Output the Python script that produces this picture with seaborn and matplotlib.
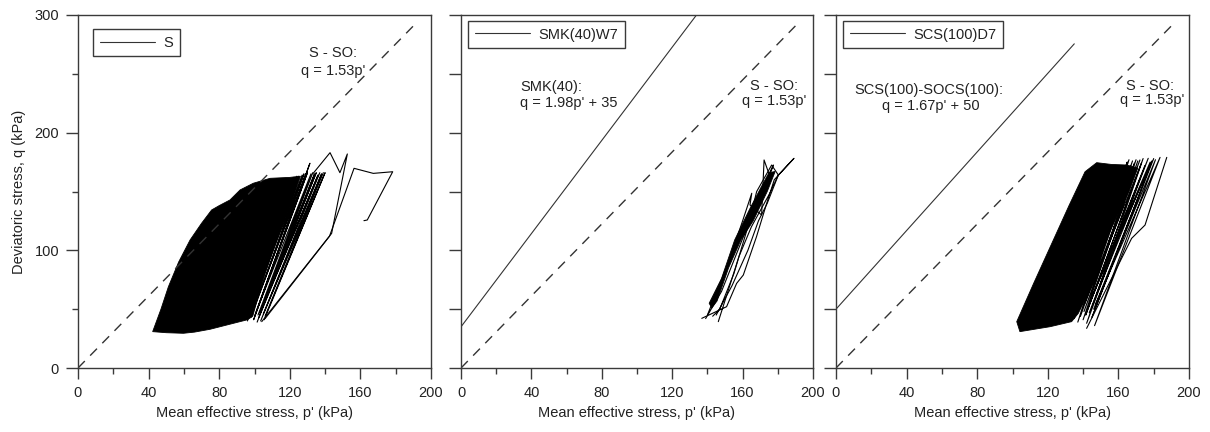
import numpy as np
import pandas as pd
import matplotlib
matplotlib.use("Agg")
import matplotlib.pyplot as plt
from matplotlib.lines import Line2D
from matplotlib.ticker import MultipleLocator
import seaborn as sns

# ---------------- data ----------------
panel_names = ["S", "SMK(40)W7", "SCS(100)D7"]
p_ticks = [0, 40, 80, 120, 160, 200]
q_ticks = [0, 100, 200, 300]

# S - SO line, q = 1.53p'
so_p = [0, 190]
so_q = [0, 290.7]
# SMK(40) line, q = 1.98p' + 35
smk_p = [0, 133.8]
smk_q = [35, 300]
# SCS(100)-SOCS(100) line, q = 1.67p' + 50
scs_p = [0, 135]
scs_q = [50, 275.5]

# Panel 1 (S): dense envelope of the cyclic stress path
s_env_p = [42.3, 47.0, 51.2, 57.0, 63.5, 70.0, 75.7, 80.0, 86.1, 91.8, 99.3, 108.8, 120.1, 126.0,
           121.0, 113.0, 106.0, 101.0, 99.0, 96.0, 91.8, 84.2, 74.8, 66.0, 59.7, 50.0, 42.3]
s_env_q = [30.9, 50.0, 69.0, 90.0, 108.8, 123.0, 134.3, 138.0, 142.8, 151.3, 157.0, 161.2, 162.0, 163.0,
           140.0, 110.0, 80.0, 55.0, 44.0, 41.0, 39.4, 36.5, 32.9, 30.5, 29.5, 30.0, 30.9]
# Panel 1 fringe cycles (bottom/top alternating)
s_fr_p = [93, 122, 95, 124, 96, 125, 97, 127, 98, 128, 99, 129, 100, 130, 99.5, 131.4, 101, 132,
          102, 133, 101.5, 134, 103, 135, 102.5, 136, 104, 137, 103.5, 138, 105, 139, 106, 140, 105.5]
s_fr_q = [42, 162, 45, 163, 40, 163, 47, 164, 43, 165, 49, 165, 44, 166, 41, 174, 48, 165,
          45, 166, 39, 165, 47, 166, 43, 164, 50, 166, 40, 165, 46, 166, 44, 166, 41]
# Panel 1 outlying branches
s_outA_p = [133, 142.8, 148.4, 152.6, 143.7, 104.1]
s_outA_q = [165, 183, 166, 181.9, 114.4, 39.4]
s_outB_p = [106, 142.5, 156.4, 167.3, 178.3, 163.9, 162.0]
s_outB_q = [42, 112, 169.7, 165.4, 166.8, 125.8, 125.2]

# Panel 2 (SMK(40)W7): dense band
sm_env_p = [141.0, 148.0, 155.5, 164.0, 171.0, 175.0, 178.5, 174.0, 166.0, 159.0, 152.0, 145.5, 142.5, 141.0]
sm_env_q = [55.0, 76.0, 108.8, 135.0, 155.0, 166.0, 167.0, 150.0, 125.0, 108.8, 85.0, 57.0, 51.0, 55.0]
# Panel 2 fringe paths
sm_fr1_p = [136.8, 150.9, 156.6, 160.4, 167.9, 173.7, 178.0, 189.2, 180.3, 176.0, 165.0, 158.0, 146.2]
sm_fr1_q = [42.2, 52.1, 71.9, 79.0, 111.6, 140.0, 160.0, 178.2, 164.0, 150.0, 120.0, 95.0, 39.4]
sm_fr2_p = [140.0, 152.0, 160.0, 165.2, 164.2, 170.8, 172.2, 175.0, 177.5, 172.0, 160.0, 148.0, 139.0]
sm_fr2_q = [45.0, 90.0, 125.0, 148.5, 138.6, 130.0, 176.8, 165.0, 172.5, 150.0, 110.0, 65.0, 42.0]
sm_fr3_p = [143.0, 147.0, 155.0, 163.0, 168.0, 176.5, 180.3, 174.0, 169.0, 163.0, 154.0, 145.0]
sm_fr3_q = [44.0, 50.0, 80.0, 120.0, 150.0, 172.5, 164.0, 140.0, 125.0, 100.0, 70.0, 45.0]

# Panel 3 (SCS(100)D7): dense envelope
scs_env_p = [102.4, 112.0, 122.0, 132.0, 141.1, 147.7, 156.0, 164.7, 171.0, 166.0, 158.0, 150.0, 145.0,
             140.0, 137.3, 133.5, 121.3, 104.2, 102.4]
scs_env_q = [39.4, 72.0, 105.0, 138.0, 166.8, 174.5, 173.0, 172.5, 170.0, 150.0, 125.0, 100.0, 75.0,
             55.0, 46.5, 39.4, 35.1, 30.9, 39.4]
# Panel 3 fringe cycles
scs_fr_p = [135, 165, 136, 166, 137, 167, 138, 168, 138.5, 169, 139, 170, 140, 171, 140.5, 172.2,
            141, 173, 141.5, 174, 142, 175, 143, 176.9, 143.5, 178, 144, 179, 145, 180, 146, 181,
            146.5, 183.6, 147]
scs_fr_q = [42, 175, 46, 177, 39, 172, 50, 176, 44, 174, 53, 177, 41, 176, 48, 176.8,
            55, 174, 45, 178, 38, 172, 52, 178.2, 47, 175, 57, 176, 43, 178, 50, 177,
            36, 179, 54]
scs_kink_p = [142.0, 167.5, 175.1, 187.4]
scs_kink_q = [33.7, 110.2, 121.5, 179.0]

# annotation positions (data coords) and texts
ann = [
    [(144.5, 267.7, "S - SO:"), (144.5, 252.0, "q = 1.53p'")],
    [(33.5, 238.7, "SMK(40):", "left"), (33.5, 225.0, "q = 1.98p' + 35", "left"),
     (178.0, 240.0, "S - SO:"), (178.0, 227.0, "q = 1.53p'")],
    [(52.7, 236.0, "SCS(100)-SOCS(100):"), (53.5, 222.6, "q = 1.67p' + 50"),
     (178.0, 240.0, "S - SO:"), (179.0, 228.0, "q = 1.53p'")],
]

# ---------------- style ----------------
sns.set_theme(style="ticks")
plt.rcParams["font.family"] = ["Liberation Sans", "DejaVu Sans"]
plt.rcParams["font.size"] = 10.5
TXT = "#222222"
SPC = "#3a3a3a"

fig = plt.figure(figsize=(12.1, 4.32), dpi=100)
lefts = [78, 461, 836]
widths = [353, 352, 353]
axes = [fig.add_axes([l / 1210, (432 - 368) / 432, w / 1210, 353 / 432]) for l, w in zip(lefts, widths)]


def paths_df(paths):
    rows = []
    for i, (pp, qq) in enumerate(paths):
        for k, (a, b) in enumerate(zip(pp, qq)):
            rows.append({"p": a, "q": b, "path": i, "order": k})
    return pd.DataFrame(rows)


LW = 0.8
panel_paths = [
    [(s_fr_p, s_fr_q), (s_outA_p, s_outA_q), (s_outB_p, s_outB_q)],
    [(sm_fr1_p, sm_fr1_q), (sm_fr2_p, sm_fr2_q), (sm_fr3_p, sm_fr3_q)],
    [(scs_fr_p, scs_fr_q), (scs_kink_p, scs_kink_q)],
]
envs = [(s_env_p, s_env_q), (sm_env_p, sm_env_q), (scs_env_p, scs_env_q)]
fit_lines = [None, (smk_p, smk_q), (scs_p, scs_q)]
legend_anchor = [(0.0425, 0.960), (0.02, 0.983), (0.02, 0.983)]

for i, ax in enumerate(axes):
    # dashed S-SO line
    sns.lineplot(x=so_p, y=so_q, ax=ax, color="#333333", lw=1.0, linestyle=(0, (7, 5.5)),
                 estimator=None, sort=False)
    if fit_lines[i] is not None:
        fp, fq = fit_lines[i]
        sns.lineplot(x=fp, y=fq, ax=ax, color="#333333", lw=LW, estimator=None, sort=False)
    ep, eq = envs[i]
    ax.fill(ep, eq, color="black", lw=0.6, edgecolor="black")
    df = paths_df(panel_paths[i])
    sns.lineplot(data=df, x="p", y="q", units="path", estimator=None, sort=False,
                 color="black", lw=LW, ax=ax, legend=False)

    for a in ann[i]:
        ha = a[3] if len(a) > 3 else "center"
        ax.text(a[0], a[1], a[2], ha=ha, va="center", fontsize=10.5, color=TXT)

    ax.set_xlim(0, 200)
    ax.set_ylim(0, 300)
    ax.set_xticks(p_ticks)
    ax.set_yticks(q_ticks)
    ax.xaxis.set_minor_locator(MultipleLocator(20))
    ax.yaxis.set_minor_locator(MultipleLocator(50))
    ax.tick_params(axis="x", which="major", length=8, width=1, color=SPC, pad=5,
                   labelsize=10.5, labelcolor=TXT, direction="out")
    ax.tick_params(axis="x", which="minor", length=4.3, width=1, color=SPC, direction="out")
    ax.tick_params(axis="y", which="major", length=8.6, width=1, color=SPC, pad=5,
                   labelsize=10.5, labelcolor=TXT, direction="out")
    ax.tick_params(axis="y", which="minor", length=4.3 if i == 0 else 8.6, width=1,
                   color=SPC, direction="out")
    for s in ax.spines.values():
        s.set_visible(True)
        s.set_color(SPC)
        s.set_linewidth(1.0)
    ax.set_xlabel("Mean effective stress, p' (kPa)", fontsize=10.5, color=TXT, labelpad=4)
    if i == 0:
        ax.set_ylabel("Deviatoric stress, q (kPa)", fontsize=10.5, color=TXT, labelpad=6)
    else:
        ax.set_ylabel("")
        ax.set_yticklabels([])

    handle = Line2D([], [], color="#333333", lw=LW)
    leg = ax.legend([handle], [panel_names[i]], loc="upper left",
                    bbox_to_anchor=legend_anchor[i], borderaxespad=0, fancybox=False,
                    framealpha=1, edgecolor=SPC, handlelength=3.8, handletextpad=0.6,
                    borderpad=0.45, fontsize=10.5)
    leg.get_frame().set_linewidth(1.0)
    for t in leg.get_texts():
        t.set_color(TXT)

fig.savefig("out.png", dpi=100)
